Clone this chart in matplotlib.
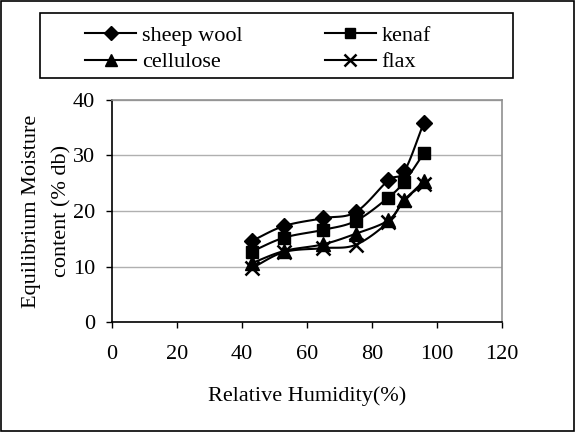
import numpy as np
import matplotlib
matplotlib.use("Agg")
import matplotlib.pyplot as plt
from matplotlib.patches import Rectangle

rh = [43, 53, 65, 75, 85, 90, 96]
sheep_wool = [14.6, 17.3, 18.7, 19.8, 25.5, 27.2, 35.9]
kenaf = [12.7, 15.2, 16.6, 18.2, 22.4, 25.3, 30.4]
cellulose = [10.6, 12.8, 14.0, 15.9, 18.3, 21.9, 25.4]
flax = [9.7, 12.6, 13.3, 13.9, 18.0, 22.0, 24.9]

series = [("sheep wool", sheep_wool, "D", 8.5),
          ("cellulose", cellulose, "^", 9.5),
          ("kenaf", kenaf, "s", 8.6),
          ("flax", flax, "x", 9.5)]

plt.rcParams['font.family'] = ['Liberation Serif', 'DejaVu Serif']
FS = 16


def smooth(x, y, n=20):
    """Hermite (Catmull-Rom) smoothing of the drawn line, like Excel smoothed lines."""
    x = np.asarray(x, float)
    y = np.asarray(y, float)
    px = np.concatenate([[2 * x[0] - x[1]], x, [2 * x[-1] - x[-2]]])
    py = np.concatenate([[2 * y[0] - y[1]], y, [2 * y[-1] - y[-2]]])
    xs, ys = [], []
    t = np.linspace(0, 1, n)
    for i in range(1, len(px) - 2):
        p0x, p1x, p2x, p3x = px[i - 1:i + 3]
        p0y, p1y, p2y, p3y = py[i - 1:i + 3]
        m1x, m2x = (p2x - p0x) / 2, (p3x - p1x) / 2
        m1y, m2y = (p2y - p0y) / 2, (p3y - p1y) / 2
        h00 = 2 * t**3 - 3 * t**2 + 1
        h10 = t**3 - 2 * t**2 + t
        h01 = -2 * t**3 + 3 * t**2
        h11 = t**3 - t**2
        xs.append(h00 * p1x + h10 * m1x + h01 * p2x + h11 * m2x)
        ys.append(h00 * p1y + h10 * m1y + h01 * p2y + h11 * m2y)
    return np.concatenate(xs), np.concatenate(ys)


fig = plt.figure(figsize=(5.75, 4.32), dpi=100)
ax = fig.add_axes([0.1948, 0.2546, 0.678, 0.514])

handles = []
for name, vals, mk, ms in series:
    sx, sy = smooth(rh, vals)
    ax.plot(sx, sy, color='black', lw=1.5, zorder=3)
    mew = 1.8 if mk == 'x' else 1
    ax.plot(rh, vals, linestyle='none', marker=mk, color='black',
            markersize=ms, markeredgewidth=mew, zorder=4)
    h, = ax.plot([], [], color='black', lw=1.5, marker=mk, markersize=ms * 0.85,
                 markeredgewidth=mew, label=name)
    handles.append(h)

ax.set_xlim(0, 120)
ax.set_ylim(0, 40)
ax.set_xticks(np.arange(0, 121, 20))
ax.set_yticks(np.arange(0, 41, 10))
ax.yaxis.grid(True, color='#b0b0b0', lw=1)
ax.set_axisbelow(True)
for s in ['top', 'right']:
    ax.spines[s].set_color('#909090')
    ax.spines[s].set_linewidth(1.2)
for s in ['left', 'bottom']:
    ax.spines[s].set_color('black')
    ax.spines[s].set_linewidth(1.2)
ax.tick_params(direction='out', length=4.2, width=1, labelsize=FS)
ax.tick_params(axis='x', pad=12.5)
ax.tick_params(axis='y', pad=8)

ax.set_xlabel("Relative Humidity(%)", fontsize=FS, labelpad=16)
ax.set_ylabel("Equilibrium Moisture\ncontent (% db)", fontsize=FS, labelpad=1,
              linespacing=1.8)

leg = fig.legend(handles=handles, loc='upper left', ncol=2,
                 bbox_to_anchor=(85 / 575, 1 - 25 / 432),
                 fontsize=FS, frameon=False, handlelength=2.3,
                 handletextpad=0.25, borderaxespad=0, labelspacing=0.28,
                 columnspacing=3.7, borderpad=0)

fig.patches.append(Rectangle((40 / 575, 1 - 78 / 432), 473 / 575, 65 / 432,
                             transform=fig.transFigure, fill=False,
                             edgecolor='black', lw=1.2))
fig.patches.append(Rectangle((0.002, 0.003), 0.996, 0.994, transform=fig.transFigure,
                             fill=False, edgecolor='black', lw=1.2))

fig.savefig("out.png", dpi=100)
